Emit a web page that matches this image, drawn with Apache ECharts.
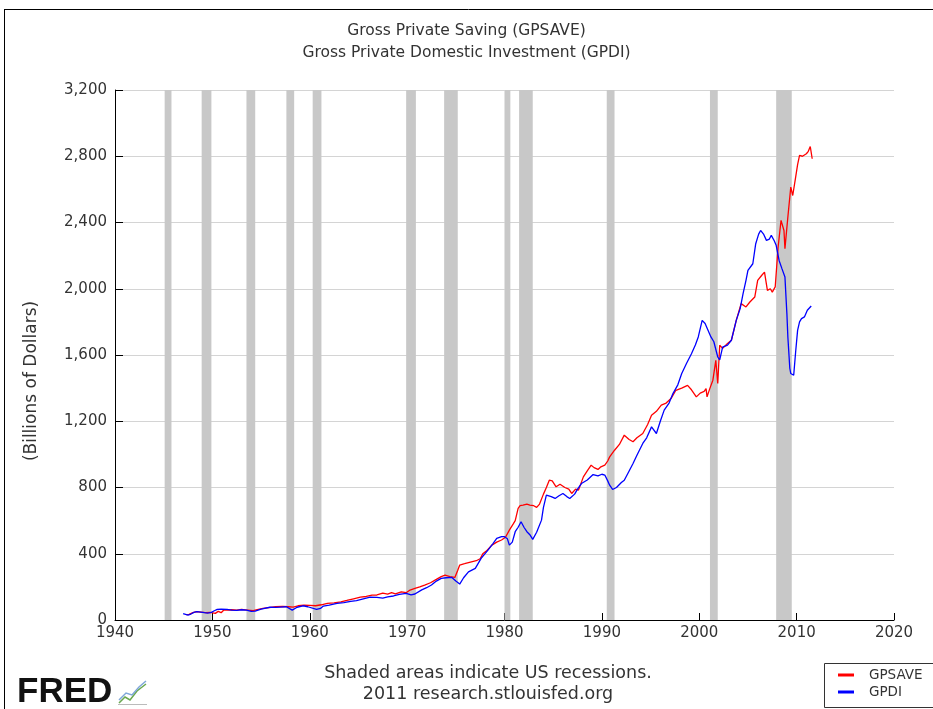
<!DOCTYPE html>
<html>
<head>
<meta charset="utf-8">
<script src="https://cdn.jsdelivr.net/npm/echarts@6/dist/echarts.min.js"></script>
<style>html,body{margin:0;padding:0;background:#fff;}#c{width:933px;height:709px;}</style>
</head>
<body>
<div id="c"></div>
<script>
// ---- data (billions of dollars) ----
const savYears = [1947.3,1947.6,1948.0,1948.4,1948.8,1949.3,1949.8,1950.3,1950.6,1950.9,1951.2,1951.6,1952.0,1952.5,1953.0,1953.6,1954.2,1954.6,1955.2,1955.8,1956.5,1957.2,1957.8,1958.3,1958.8,1959.4,1960.0,1960.6,1961.2,1961.8,1962.5,1963.2,1963.8,1964.5,1965.2,1965.8,1966.4,1966.9,1967.5,1968.0,1968.4,1968.8,1969.4,1969.9,1970.3,1970.8,1971.3,1971.8,1972.4,1973.0,1973.5,1973.9,1974.4,1974.9,1975.2,1975.4,1975.9,1976.5,1977.1,1977.5,1977.8,1978.2,1978.7,1979.2,1979.7,1980.1,1980.5,1980.9,1981.1,1981.4,1981.6,1981.9,1982.3,1982.6,1983.0,1983.3,1983.6,1984.0,1984.3,1984.6,1984.9,1985.3,1985.7,1986.2,1986.6,1986.9,1987.3,1987.6,1988.1,1988.5,1988.9,1989.2,1989.6,1989.9,1990.3,1990.6,1990.8,1991.3,1991.8,1992.3,1992.8,1993.2,1993.6,1994.2,1994.7,1995.1,1995.6,1996.1,1996.6,1997.1,1997.6,1998.2,1998.8,1999.2,1999.7,2000.1,2000.5,2000.7,2000.8,2001.1,2001.4,2001.7,2001.9,2002.1,2002.4,2002.6,2002.9,2003.3,2003.8,2004.3,2004.8,2005.2,2005.7,2006.0,2006.4,2006.7,2006.9,2007.0,2007.3,2007.5,2007.8,2008.1,2008.4,2008.7,2008.8,2009.1,2009.4,2009.6,2009.9,2010.1,2010.3,2010.6,2011.0,2011.2,2011.4,2011.6];
const savValues = [32,34,44,50,48,44,46,40,52,44,62,60,62,60,64,60,56,62,70,75,80,82,80,78,86,90,88,86,92,100,104,110,118,128,138,142,150,151,162,156,165,158,170,165,181,191,200,211,225,245,262,271,262,257,300,332,340,350,358,370,402,420,452,470,483,500,543,580,600,674,690,694,700,694,690,680,700,760,800,844,840,804,820,800,790,764,790,784,864,900,935,920,909,925,935,960,985,1025,1060,1116,1090,1076,1100,1126,1180,1236,1260,1297,1310,1337,1387,1400,1417,1390,1347,1370,1380,1397,1347,1400,1448,1568,1428,1659,1640,1648,1670,1689,1809,1910,1890,1920,1950,2051,2080,2100,2101,1990,2000,1980,2011,2252,2413,2352,2242,2433,2614,2563,2674,2750,2805,2800,2815,2830,2859,2785];

const invYears = [1947.0,1947.2,1947.5,1947.8,1948.1,1948.4,1948.8,1949.2,1949.5,1949.9,1950.2,1950.5,1950.9,1951.5,1952.0,1952.5,1953.0,1953.5,1954.0,1954.4,1955.0,1955.9,1956.5,1957.0,1957.6,1958.2,1958.7,1959.3,1959.8,1960.0,1960.7,1961.1,1961.4,1962.0,1962.8,1963.5,1964.2,1964.8,1965.5,1966.2,1966.9,1967.5,1968.0,1968.6,1969.2,1969.9,1970.4,1970.8,1971.5,1972.0,1972.5,1973.0,1973.5,1974.0,1974.6,1975.0,1975.4,1975.8,1976.3,1977.0,1977.6,1978.3,1978.8,1979.2,1979.7,1980.0,1980.3,1980.5,1980.8,1981.1,1981.4,1981.7,1982.0,1982.3,1982.6,1982.9,1983.3,1983.8,1984.0,1984.3,1984.8,1985.2,1985.6,1986.0,1986.4,1986.7,1987.2,1987.5,1987.9,1988.5,1989.1,1989.6,1990.0,1990.3,1990.6,1990.8,1991.1,1991.5,1992.0,1992.3,1992.8,1993.2,1993.6,1994.2,1994.6,1995.1,1995.6,1996.0,1996.4,1996.9,1997.3,1997.8,1998.2,1998.7,1999.2,1999.6,1999.9,2000.3,2000.6,2000.8,2001.2,2001.5,2001.9,2002.1,2002.4,2002.9,2003.3,2003.8,2004.2,2004.5,2004.8,2005.0,2005.5,2005.8,2006.1,2006.3,2006.6,2006.9,2007.2,2007.4,2007.7,2007.9,2008.2,2008.5,2008.8,2009.0,2009.1,2009.3,2009.4,2009.7,2009.9,2010.1,2010.3,2010.5,2010.8,2011.1,2011.3,2011.5];
const invValues = [38,40,30,36,46,50,48,44,42,46,56,64,66,64,60,58,62,60,52,54,66,77,76,78,80,60,77,86,80,84,64,70,84,90,100,105,112,117,128,138,137,132,140,145,155,161,152,157,182,195,211,235,251,255,257,235,217,255,291,312,372,422,460,493,503,503,490,452,470,533,560,593,560,533,515,487,530,603,680,754,745,734,750,764,745,734,760,790,824,845,878,870,880,875,840,814,788,800,830,844,900,945,995,1066,1100,1166,1126,1200,1267,1310,1367,1420,1488,1550,1608,1660,1709,1809,1790,1793,1709,1680,1588,1570,1648,1660,1689,1809,1880,1970,2050,2111,2151,2272,2330,2352,2330,2292,2300,2322,2290,2262,2171,2120,2071,1850,1709,1520,1488,1478,1620,1749,1800,1820,1830,1870,1880,1896];

// recession periods (start, end) in decimal years
const recStarts = [1945.1,1948.9,1953.5,1957.6,1960.3,1969.9,1973.8,1980.0,1981.5,1990.5,2001.1,2007.9];
const recEnds   = [1945.8,1949.9,1954.4,1958.4,1961.2,1970.9,1975.2,1980.6,1982.9,1991.3,2001.9,2009.5];

const xTicks = [1940,1950,1960,1970,1980,1990,2000,2010,2020];
const yTicks = [0,400,800,1200,1600,2000,2400,2800,3200];

const titleLines = ['Gross Private Saving (GPSAVE)','Gross Private Domestic Investment (GPDI)'];
const seriesNames = ['GPSAVE','GPDI'];

// ---- build ----
const savData = savYears.map((y,i)=>[y,savValues[i]]);
const invData = invYears.map((y,i)=>[y,invValues[i]]);
const recAreas = recStarts.map((s,i)=>[{xAxis:s},{xAxis:recEnds[i]}]);
const FONT = 'DejaVu Sans';
const chart = echarts.init(document.getElementById('c'), null, {renderer:'canvas'});
chart.setOption({
  backgroundColor:'#fff',
  animation:false,
  title:{
    text: titleLines.join('\n'),
    left:'center', top:15,
    textStyle:{fontFamily:FONT,fontSize:15.5,fontWeight:'normal',color:'#333',lineHeight:22}
  },
  grid:{left:115,top:90,width:779,height:530,containLabel:false},
  xAxis:{
    type:'value', min:xTicks[0], max:xTicks[xTicks.length-1], interval:10,
    axisLine:{show:true,lineStyle:{color:'#000',width:1}},
    axisTick:{show:true,inside:true,length:7,lineStyle:{color:'#000'}},
    axisLabel:{fontFamily:FONT,fontSize:15,color:'#333',margin:6,formatter:v=>String(v)},
    splitLine:{show:false}
  },
  yAxis:{
    type:'value', min:yTicks[0], max:yTicks[yTicks.length-1], interval:400,
    axisLine:{show:true,lineStyle:{color:'#000',width:1}},
    axisTick:{show:true,inside:true,length:8,lineStyle:{color:'#000'}},
    axisLabel:{fontFamily:FONT,fontSize:15,color:'#333',margin:8,
      formatter:v=>v.toLocaleString('en-US')},
    splitLine:{show:true,lineStyle:{color:'#d4d4d4',width:1}}
  },
  series:[
    {
      name:seriesNames[0], type:'line', data:savData, symbol:'none',
      lineStyle:{color:'#ff0000',width:1.3}, itemStyle:{color:'#ff0000'},
      z:3,
      markArea:{silent:true,itemStyle:{color:'#c8c8c8'},data:recAreas,z:1}
    },
    {
      name:seriesNames[1], type:'line', data:invData, symbol:'none',
      lineStyle:{color:'#0000ff',width:1.3}, itemStyle:{color:'#0000ff'},
      z:4
    }
  ],
  graphic:[
    {type:'line',shape:{x1:4.5,y1:9,x2:4.5,y2:709},style:{stroke:'#000',lineWidth:1}},
    {type:'line',shape:{x1:4,y1:9.5,x2:933,y2:9.5},style:{stroke:'#000',lineWidth:1}},
    {type:'text',x:32,y:381,rotation:Math.PI/2,
      style:{text:'(Billions of Dollars)',fontFamily:FONT,fontSize:17,fill:'#333',align:'center',verticalAlign:'middle'}},
    {type:'text',x:488,y:673,style:{text:'Shaded areas indicate US recessions.',fontFamily:FONT,fontSize:17.5,fill:'#333',align:'center',verticalAlign:'middle'}},
    {type:'text',x:488,y:694,style:{text:'2011 research.stlouisfed.org',fontFamily:FONT,fontSize:17.5,fill:'#333',align:'center',verticalAlign:'middle'}},
    {type:'text',x:17,y:692,style:{text:'FRED',fontFamily:'Liberation Sans',fontWeight:'bold',fontSize:35,fill:'#111',align:'left',verticalAlign:'middle'}},
    {type:'polyline',shape:{points:[[119,703],[125,697],[130,700],[137,691],[146,684]]},style:{stroke:'#6aa84f',lineWidth:1.5,fill:null}},
    {type:'polyline',shape:{points:[[119,700],[126,693],[132,695],[139,687],[146,681]]},style:{stroke:'#7fa7d9',lineWidth:1.5,fill:null}},
    {type:'line',shape:{x1:118,y1:704.5,x2:147,y2:704.5},style:{stroke:'#bbb',lineWidth:1}},
    {type:'rect',shape:{x:824.5,y:663.5,width:120,height:44},style:{fill:'#fff',stroke:'#333',lineWidth:1}},
    {type:'line',shape:{x1:838,y1:675,x2:854,y2:675},style:{stroke:'#ff0000',lineWidth:3}},
    {type:'line',shape:{x1:838,y1:692,x2:854,y2:692},style:{stroke:'#0000ff',lineWidth:3}},
    {type:'text',x:869,y:675,style:{text:seriesNames[0],fontFamily:FONT,fontSize:13.5,fill:'#333',align:'left',verticalAlign:'middle'}},
    {type:'text',x:869,y:692,style:{text:seriesNames[1],fontFamily:FONT,fontSize:13.5,fill:'#333',align:'left',verticalAlign:'middle'}}
  ]
});
</script>
</body>
</html>
